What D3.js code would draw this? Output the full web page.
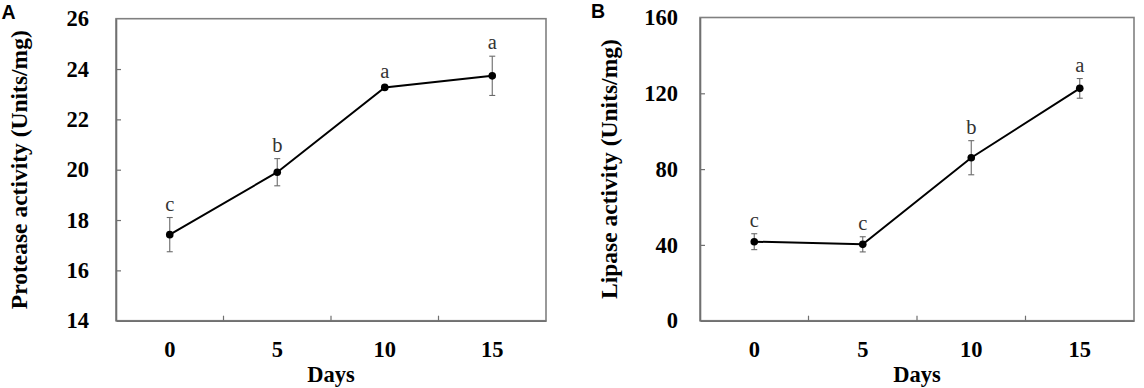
<!DOCTYPE html>
<html>
<head>
<meta charset="utf-8">
<script src="https://cdn.jsdelivr.net/npm/d3@7"></script>
<style>
  body { margin: 0; background: #fff; }
  svg { display: block; }
</style>
</head>
<body>
<svg id="chart" width="1144" height="388"></svg>
<script>
// ---- data ----
const days = ["0", "5", "10", "15"];
const proteaseMean = [17.42, 19.90, 23.27, 23.73];
const proteaseErr  = [0.68, 0.54, 0.08, 0.78];
const proteaseLetters = ["c", "b", "a", "a"];
const proteaseTicks = [14, 16, 18, 20, 22, 24, 26];

const lipaseMean = [41.7, 40.3, 86.0, 122.6];
const lipaseErr  = [4.2, 4.0, 9.0, 5.2];
const lipaseLetters = ["c", "c", "b", "a"];
const lipaseTicks = [0, 40, 80, 120, 160];

const svg = d3.select("#chart");
const serif = "'Liberation Serif', 'Times New Roman', serif";

function panel(cfg) {
  const { x0, x1, y0, y1, domain, ticks, mean, err, letters, ylabel, tag, tagX, tagY, labelX, tickPad } = cfg;
  const g = svg.append("g");
  const x = d3.scaleBand().domain(days).range([x0, x1]).paddingInner(0).paddingOuter(0);
  const y = d3.scaleLinear().domain(domain).range([y1, y0]);

  // frame
  g.append("rect").attr("x", x0).attr("y", y0).attr("width", x1 - x0).attr("height", y1 - y0)
    .attr("fill", "none").attr("stroke", "#808080").attr("stroke-width", 1.6);

  // y axis
  const ya = g.append("g").attr("transform", `translate(${x0},0)`)
    .call(d3.axisLeft(y).tickValues(ticks).tickSizeInner(-5).tickSizeOuter(0).tickPadding(tickPad));
  ya.select(".domain").attr("stroke", "#707070").attr("stroke-width", 1.6);
  ya.selectAll(".tick line").attr("stroke", "#707070").attr("stroke-width", 1.2);
  ya.selectAll(".tick").filter(d => d === domain[0] || d === domain[1]).select("line").remove();
  ya.selectAll("text").attr("font-family", serif).attr("font-weight", "bold")
    .attr("font-size", 22.5).attr("fill", "#000");

  // x axis (labels at category centers)
  const xa = g.append("g").attr("transform", `translate(0,${y1})`)
    .call(d3.axisBottom(x).tickSize(0).tickPadding(20));
  xa.select(".domain").attr("stroke", "#707070").attr("stroke-width", 1.6);
  xa.selectAll("text").attr("font-family", serif).attr("font-weight", "bold")
    .attr("font-size", 22.5).attr("fill", "#000");
  // inner tick marks at category boundaries
  g.selectAll(".xb").data(days.slice(0, -1)).enter().append("line")
    .attr("x1", d => x(d) + x.bandwidth()).attr("x2", d => x(d) + x.bandwidth())
    .attr("y1", y1).attr("y2", y1 - 5).attr("stroke", "#707070").attr("stroke-width", 1.2);

  const cx = d => x(d) + x.bandwidth() / 2;

  // error bars
  const eb = g.append("g").attr("stroke", "#6a6a6a").attr("stroke-width", 1.1);
  days.forEach((d, i) => {
    const top = y(mean[i] + err[i]), bot = y(mean[i] - err[i]), c = cx(d);
    eb.append("line").attr("x1", c).attr("x2", c).attr("y1", top).attr("y2", bot);
    eb.append("line").attr("x1", c - 3).attr("x2", c + 3).attr("y1", top).attr("y2", top);
    eb.append("line").attr("x1", c - 3).attr("x2", c + 3).attr("y1", bot).attr("y2", bot);
  });

  // line
  const line = d3.line().x((v, i) => cx(days[i])).y(v => y(v));
  g.append("path").datum(mean).attr("d", line).attr("fill", "none")
    .attr("stroke", "#000").attr("stroke-width", 2);

  // points
  g.selectAll(".pt").data(mean).enter().append("circle")
    .attr("cx", (v, i) => cx(days[i])).attr("cy", v => y(v)).attr("r", 3.8).attr("fill", "#000");

  // significance letters
  g.selectAll(".lt").data(letters).enter().append("text")
    .attr("x", (l, i) => cx(days[i])).attr("y", (l, i) => y(mean[i] + err[i]) - 7)
    .attr("text-anchor", "middle").attr("font-family", serif).attr("font-size", 20.5)
    .attr("fill", "#333").text(l => l);

  // axis titles
  g.append("text").attr("transform", `translate(${labelX},${(y0 + y1) / 2}) rotate(-90)`)
    .attr("text-anchor", "middle").attr("font-family", serif).attr("font-weight", "bold")
    .attr("font-size", 23.5).attr("fill", "#000").text(ylabel);
  g.append("text").attr("x", (x0 + x1) / 2).attr("y", 382)
    .attr("text-anchor", "middle").attr("font-family", serif).attr("font-weight", "bold")
    .attr("font-size", 22.5).attr("fill", "#000").text("Days");

  // panel tag
  g.append("text").attr("x", tagX).attr("y", tagY)
    .attr("font-family", "'Liberation Sans', Arial, sans-serif").attr("font-weight", "bold")
    .attr("font-size", 19.5).attr("fill", "#000").text(tag);
}

panel({ x0: 116, x1: 546, y0: 18.7, y1: 320.7, domain: [14, 26], ticks: proteaseTicks,
  mean: proteaseMean, err: proteaseErr, letters: proteaseLetters,
  ylabel: "Protease activity (Units/mg)", tag: "A", tagX: 1.5, tagY: 19, labelX: 27, tickPad: 27 });

panel({ x0: 700, x1: 1134, y0: 17.5, y1: 320.7, domain: [0, 160], ticks: lipaseTicks,
  mean: lipaseMean, err: lipaseErr, letters: lipaseLetters,
  ylabel: "Lipase activity (Units/mg)", tag: "B", tagX: 591, tagY: 17.5, labelX: 617, tickPad: 22 });
</script>
</body>
</html>
